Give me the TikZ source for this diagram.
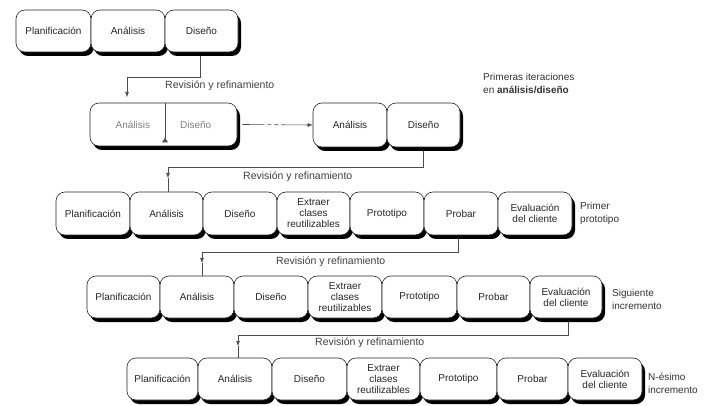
\documentclass[tikz,border=0pt]{standalone}
\usepackage{fontspec}
\setmainfont{Liberation Sans}
\usetikzlibrary{shadows,arrows.meta}
\tikzset{
  box/.style={draw=black!85, line width=0.6pt, rounded corners=9pt, fill=white,
    inner sep=1pt, align=center, text=black!85,
    font=\fontsize{10}{11}\selectfont,
    drop shadow={shadow xshift=3pt, shadow yshift=-4pt, fill=black, opacity=1}},
  conn/.style={draw=black!70, line width=0.6pt},
  lbl/.style={font=\fontsize{10.5}{12}\selectfont, text=black!75, inner sep=0pt},
  side/.style={font=\fontsize{10}{13}\selectfont, text=black!80, align=left, anchor=west, inner sep=0pt},
  tip/.style={-{Latex[length=5pt,width=4pt]}}
}
\newcommand{\bx}[7][]{\node[box,#1,minimum width={(#4-#3)*1pt},minimum height={(#6-#5)*1pt}] (#2) at ({(#3+#4)/2},{(#5+#6)/2}) {#7};}
\begin{document}
\begin{tikzpicture}[x=1pt,y=-1pt]
\useasboundingbox[fill=white] (0,0) rectangle (723,406);
% Row 1
\bx{r1p}{16}{91}{10}{52}{Planificación}
\bx{r1a}{91}{165}{10}{52}{Análisis}
\bx{r1d}{165}{238}{10}{52}{Diseño}
% Row 2
\bx[text=black!50]{r2l}{90}{237}{103}{146}{Análisis\hspace{30pt}Diseño}
\bx{r2a}{313}{387}{103}{147}{Análisis}
\bx{r2d}{387}{460}{103}{147}{Diseño}
\draw[conn,-{Latex[reversed,length=5pt,width=6pt]}] ([xshift=1.5pt]r2l.north) -- ([xshift=1.5pt,yshift=4pt]r2l.south);
\draw[conn,tip,dash pattern={on 22pt off 3pt on 4pt off 3pt on 4pt off 3pt on 40pt}] ([xshift=5pt]r2l.east) -- (r2a.west);
% Row 3
\bx{r3p}{56}{130}{192}{235}{Planificación}
\bx{r3a}{130}{203}{192}{235}{Análisis}
\bx{r3d}{203}{277}{192}{235}{Diseño}
\bx{r3e}{277}{350}{192}{235}{Extraer\\clases\\reutilizables}
\bx{r3pr}{350}{424}{192}{235}{Prototipo}
\bx{r3pb}{424}{498}{192}{235}{Probar}
\bx{r3ev}{498}{572}{192}{235}{Evaluación\\del cliente}
% Row 4
\bx{r4p}{87}{160}{276}{318}{Planificación}
\bx{r4a}{160}{234}{276}{318}{Análisis}
\bx{r4d}{234}{308}{276}{318}{Diseño}
\bx{r4e}{308}{382}{276}{318}{Extraer\\clases\\reutilizables}
\bx{r4pr}{382}{457}{276}{318}{Prototipo}
\bx{r4pb}{457}{530}{276}{318}{Probar}
\bx{r4ev}{530}{602}{276}{318}{Evaluación\\del cliente}
% Row 5
\bx{r5p}{127}{198}{358}{400}{Planificación}
\bx{r5a}{198}{272}{358}{400}{Análisis}
\bx{r5d}{272}{347}{358}{400}{Diseño}
\bx{r5e}{347}{420}{358}{400}{Extraer\\clases\\reutilizables}
\bx{r5pr}{420}{497}{358}{400}{Prototipo}
\bx{r5pb}{497}{568}{358}{400}{Probar}
\bx{r5ev}{568}{642}{358}{400}{Evaluación\\del cliente}
% Connectors
\coordinate (c12) at (127,77);
\coordinate (e12) at (127,97);
\draw[conn,tip] ([xshift=-1.5pt,yshift=-4pt]r1d.south) |- (c12) -- (e12);
\node[lbl,anchor=west] (l12) at (165,86) {Revisión y refinamiento};

\coordinate (c23) at (168,167);
\coordinate (a23) at (168,178);
\draw[conn] ([yshift=-4pt]r2d.south) |- (c23);
\draw[conn,tip] (c23) -- (a23);
\draw[conn] (a23) -- (a23 |- r3a.north);
\node[lbl,anchor=west] (l23) at (243,177) {Revisión y refinamiento};

\coordinate (c34) at (202,252);
\coordinate (a34) at (202,263);
\draw[conn] ([xshift=-3pt,yshift=-4pt]r3pb.south) |- (c34);
\draw[conn,tip] (c34) -- (a34);
\draw[conn] (a34) -- (a34 |- r4a.north);
\node[lbl,anchor=west] (l34) at (276,262) {Revisión y refinamiento};

\coordinate (c45) at (238,335);
\coordinate (a45) at (238,346);
\draw[conn] ([xshift=2pt,yshift=-4pt]r4ev.south) |- (c45);
\draw[conn,tip] (c45) -- (a45);
\draw[conn] (a45) -- (a45 |- r5a.north);
\node[lbl,anchor=west] (l45) at (315,343) {Revisión y refinamiento};

% Side labels
\node[side] (s1) at (483,83) {Primeras iteraciones\\en \textbf{análisis/diseño}};
\node[side] (s2) at (580,213) {Primer\\prototipo};
\node[side] (s3) at (612,299) {Siguiente\\incremento};
\node[side] (s4) at (648,383) {N-ésimo\\incremento};
\end{tikzpicture}
\end{document}
